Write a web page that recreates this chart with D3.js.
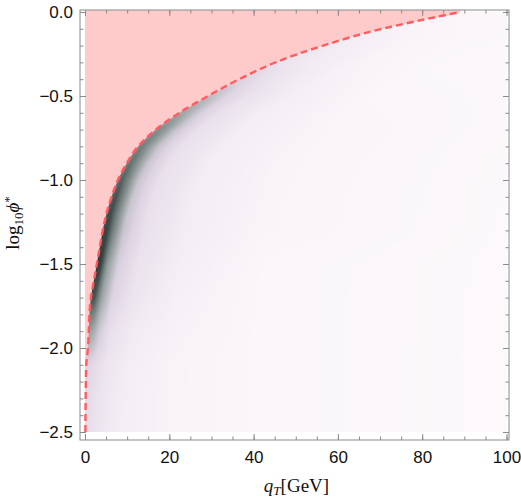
<!DOCTYPE html>
<html>
<head>
<meta charset="utf-8">
<script src="https://cdn.jsdelivr.net/npm/d3@7"></script>
<style>
  body { margin: 0; background: #fff; }
  text { font-family: "Liberation Sans", Arial, sans-serif; }
</style>
</head>
<body>
<svg id="chart" width="521" height="503"></svg>
<script>
// boundary of the allowed region (red dashed line)
const bndPhi = [-2.5, -2.3, -2.1, -2.0, -1.9, -1.8, -1.7, -1.6, -1.5, -1.4, -1.3, -1.2, -1.1, -1.0,
                -0.9, -0.8, -0.7, -0.6, -0.5, -0.4, -0.3, -0.2, -0.1, -0.05, 0.0];
const bndQ   = [0.1, 0.15, 0.3, 0.7, 0.9, 1.05, 1.4, 2.1, 2.8, 3.5, 4.2, 5.1, 6.3, 7.8,
                9.9, 12.6, 16.8, 22.4, 29.2, 36.6, 45.2, 56.5, 70.5, 79.5, 89.0];

// density (0 = white, 1 = darkest) by log10 phi row and by qT distance past the boundary
const densPhi = [-2.5, -2.3, -2.1, -1.9, -1.7, -1.5, -1.3, -1.1, -0.9, -0.7, -0.5, -0.3, -0.1, 0.0];
const densOff = [0, 1, 2.5, 5, 10, 20, 40, 100];
const density = [
  [0.22, 0.20, 0.17, 0.12, 0.08, 0.05, 0.03, 0.01],
  [0.25, 0.22, 0.18, 0.13, 0.08, 0.05, 0.03, 0.01],
  [0.30, 0.27, 0.22, 0.15, 0.09, 0.05, 0.03, 0.01],
  [0.58, 0.52, 0.36, 0.20, 0.11, 0.06, 0.03, 0.01],
  [0.92, 0.87, 0.56, 0.30, 0.15, 0.07, 0.03, 0.01],
  [1.00, 0.95, 0.60, 0.33, 0.17, 0.08, 0.03, 0.01],
  [0.92, 0.95, 0.72, 0.38, 0.19, 0.09, 0.04, 0.01],
  [0.82, 0.90, 0.72, 0.38, 0.19, 0.09, 0.04, 0.01],
  [0.72, 0.78, 0.64, 0.38, 0.19, 0.09, 0.04, 0.01],
  [0.62, 0.66, 0.58, 0.38, 0.19, 0.09, 0.04, 0.01],
  [0.40, 0.42, 0.37, 0.28, 0.17, 0.08, 0.03, 0.01],
  [0.17, 0.17, 0.16, 0.13, 0.10, 0.05, 0.02, 0.01],
  [0.06, 0.06, 0.06, 0.05, 0.04, 0.03, 0.02, 0.01],
  [0.03, 0.03, 0.03, 0.03, 0.02, 0.02, 0.01, 0.01]
];

const colorStops = [0, 0.12, 0.3, 0.5, 0.75, 1];
const colorVals  = ["#fdfafc", "#f0e9f1", "#ddd3e2", "#a9aeb0", "#6b7977", "#2b3535"];

const xTicks = [0, 20, 40, 60, 80, 100];
const yTicks = [-2.5, -2.0, -1.5, -1.0, -0.5, 0.0];

// frame and scales
const frame = {left: 80, right: 509, top: 10, bottom: 440};
const x = d3.scaleLinear().domain([0, 100]).range([85, 506.5]);
const y = d3.scaleLinear().domain([-2.5, 0]).range([432, 12]);
const color = d3.scaleLinear().domain(colorStops).range(colorVals).clamp(true);

const svg = d3.select("#chart");

// heatmap rendered into a canvas then put in the svg as an image
const qAt = d3.scaleLinear().domain(bndPhi).range(bndQ).clamp(true);
const rowIdx = d3.scaleLinear().domain(densPhi).range(d3.range(densPhi.length)).clamp(true);
const colIdx = d3.scaleLinear().domain(densOff).range(d3.range(densOff.length)).clamp(true);

function densityAt(phi, off) {
  var r = rowIdx(phi), c = colIdx(off);
  var r0 = Math.floor(r), c0 = Math.floor(c);
  var r1 = Math.min(r0 + 1, densPhi.length - 1), c1 = Math.min(c0 + 1, densOff.length - 1);
  var fr = r - r0, fc = c - c0;
  var a = density[r0][c0] * (1 - fc) + density[r0][c1] * fc;
  var b = density[r1][c0] * (1 - fc) + density[r1][c1] * fc;
  return a * (1 - fr) + b * fr;
}

const px0 = Math.round(x(0)), px1 = Math.round(x(100));
const py0 = Math.round(y(0)), py1 = Math.round(y(-2.5));
const w = px1 - px0, h = py1 - py0;
const canvas = document.createElement("canvas");
canvas.width = w; canvas.height = h;
const ctx = canvas.getContext("2d");
const img = ctx.createImageData(w, h);
for (let j = 0; j < h; j++) {
  const phi = y.invert(py0 + j + 0.5);
  const qb = qAt(phi);
  for (let i = 0; i < w; i++) {
    const q = x.invert(px0 + i + 0.5);
    const k = (j * w + i) * 4;
    const off = q - qb;
    if (off < -0.6) { img.data[k + 3] = 0; continue; }
    const c = d3.rgb(color(densityAt(phi, Math.max(off, 0))));
    img.data[k] = c.r; img.data[k + 1] = c.g; img.data[k + 2] = c.b; img.data[k + 3] = 255;
  }
}
ctx.putImageData(img, 0, 0);

svg.append("image")
  .attr("x", px0).attr("y", py0)
  .attr("width", w).attr("height", h)
  .attr("href", canvas.toDataURL());

// forbidden region (pink) bounded by the dashed line
const bnd = bndPhi.map((p, i) => [bndQ[i], p]);
const topPhi = y.invert(frame.top);
const pinkPts = bnd.concat([[bndQ[bndQ.length - 1], topPhi]]);

svg.append("path")
  .datum(pinkPts)
  .attr("d", d3.area()
    .y(d => y(d[1]))
    .x0(x(0))
    .x1(d => x(d[0]))
    .curve(d3.curveMonotoneY))
  .attr("fill", "#ffcaca")
  .attr("stroke", "none");

svg.append("path")
  .datum(bnd)
  .attr("d", d3.line().x(d => x(d[0])).y(d => y(d[1])).curve(d3.curveMonotoneY))
  .attr("fill", "none")
  .attr("stroke", "#ff5c60")
  .attr("stroke-width", 2.4)
  .attr("stroke-dasharray", "7,4");

// frame
svg.append("rect")
  .attr("x", frame.left).attr("y", frame.top)
  .attr("width", frame.right - frame.left)
  .attr("height", frame.bottom - frame.top)
  .attr("fill", "none")
  .attr("stroke", "#8a8a8a")
  .attr("stroke-width", 1);

// ticks, pointing inward on all four sides
const xMinor = d3.range(0, 100.1, 5);
const yMinor = d3.range(-25, 1, 1).map(d => d / 10);

function addAxis(axis, tx, ty, labels) {
  const g = svg.append("g")
    .attr("transform", "translate(" + tx + "," + ty + ")")
    .call(axis);
  g.select(".domain").remove();
  g.selectAll(".tick line").attr("stroke", "#8a8a8a");
  g.selectAll("text")
    .style("font-family", "'Liberation Sans', Arial, sans-serif")
    .style("font-size", "17px")
    .attr("fill", "#111");
  if (!labels) g.selectAll("text").remove();
  return g;
}

addAxis(d3.axisBottom(x).tickValues(xMinor).tickSize(-3.5).tickFormat(""), 0, frame.bottom, false);
addAxis(d3.axisBottom(x).tickValues(xTicks).tickSize(-6).tickPadding(11).tickFormat(d3.format("d")), 0, frame.bottom, true);
addAxis(d3.axisTop(x).tickValues(xMinor).tickSize(-3.5).tickFormat(""), 0, frame.top, false);
addAxis(d3.axisTop(x).tickValues(xTicks).tickSize(-6).tickFormat(""), 0, frame.top, false);

addAxis(d3.axisLeft(y).tickValues(yMinor).tickSize(-3.5).tickFormat(""), frame.left, 0, false);
addAxis(d3.axisLeft(y).tickValues(yTicks).tickSize(-6).tickPadding(7).tickFormat(d3.format(".1f")), frame.left, 0, true);
addAxis(d3.axisRight(y).tickValues(yMinor).tickSize(-3.5).tickFormat(""), frame.right, 0, false);
addAxis(d3.axisRight(y).tickValues(yTicks).tickSize(-6).tickFormat(""), frame.right, 0, false);

// axis titles
const xt = svg.append("text")
  .attr("x", (frame.left + frame.right) / 2 + 2)
  .attr("y", 492)
  .attr("text-anchor", "middle")
  .style("font-family", "'Liberation Serif', 'Times New Roman', serif")
  .style("font-size", "19px")
  .attr("fill", "#111");
xt.append("tspan").style("font-style", "italic").text("q");
xt.append("tspan").style("font-style", "italic").style("font-size", "13px").attr("dy", 3).text("T");
xt.append("tspan").attr("dy", -3).text("[GeV]");

const yt = svg.append("text")
  .attr("transform", "translate(19," + ((frame.top + frame.bottom) / 2 - 2) + ") rotate(-90)")
  .attr("text-anchor", "middle")
  .style("font-family", "'Liberation Serif', 'Times New Roman', serif")
  .style("font-size", "19px")
  .attr("fill", "#111");
yt.append("tspan").text("log");
yt.append("tspan").style("font-size", "13px").attr("dy", 4).text("10");
yt.append("tspan").style("font-style", "italic").attr("dy", -4).text("\u03d5");
yt.append("tspan").style("font-size", "13px").attr("dy", -6).text("*");
</script>
</body>
</html>
